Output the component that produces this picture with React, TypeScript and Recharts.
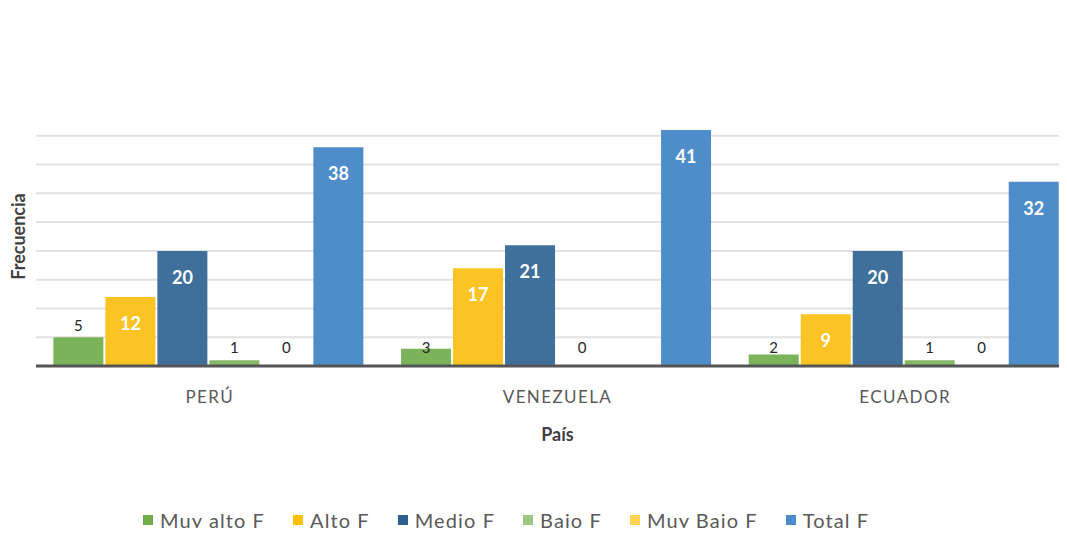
import { BarChart, Bar, XAxis, YAxis, CartesianGrid, LabelList } from 'recharts'

const countries = ['PERÚ', 'VENEZUELA', 'ECUADOR']
const muyAlto = [5, 3, 2]
const alto = [12, 17, 9]
const medio = [20, 21, 20]
const bajo = [1, 0, 1]
const muyBajo: (number | null)[] = [0, null, 0]
const total = [38, 41, 32]
const yTicks = [0, 5, 10, 15, 20, 25, 30, 35, 40]
const yMax = 45

const series = [
  { key: 'muyAlto', name: 'Muy alto F', color: '#7ab35a', legend: '#72ad4a', inside: false },
  { key: 'alto', name: 'Alto F', color: '#fbc323', legend: '#ffc000', inside: true },
  { key: 'medio', name: 'Medio F', color: '#3f6f9b', legend: '#2f5f8f', inside: true },
  { key: 'bajo', name: 'Bajo F', color: '#86b965', legend: '#9dc880', inside: false },
  { key: 'muyBajo', name: 'Muy Bajo F', color: '#ffcf40', legend: '#ffd24f', inside: false },
  { key: 'total', name: 'Total F', color: '#4e8dca', legend: '#4a8bca', inside: true },
]

const data = countries.map((c, i) => ({
  pais: c,
  muyAlto: muyAlto[i],
  alto: alto[i],
  medio: medio[i],
  bajo: bajo[i],
  muyBajo: muyBajo[i],
  total: total[i],
}))

const FONT = 'Lato, "Open Sans", sans-serif'

function OutsideLabel(props: any) {
  const { x, y, width, height, value } = props
  if (value == null) return null
  const base = y + height
  const ty = value >= 4 ? y - 12 : base - 19
  return (
    <text x={x + width / 2} y={ty} textAnchor="middle" dominantBaseline="central"
      fontFamily={FONT} fontSize={15} fill="#262626">
      {value}
    </text>
  )
}

function InsideLabel(props: any) {
  const { x, y, width, value } = props
  if (value == null) return null
  return (
    <text x={x + width / 2} y={y + 26} textAnchor="middle" dominantBaseline="central"
      fontFamily={FONT} fontSize={18} fontWeight="bold" fill="#ffffff">
      {value}
    </text>
  )
}

function CountryTick(props: any) {
  const { x, y, payload } = props
  return (
    <text x={x} y={y + 22} textAnchor="middle" dominantBaseline="central"
      fontFamily={FONT} fontSize={17} fill="#595959" letterSpacing={1.4}>
      {payload.value}
    </text>
  )
}

function NoTick() {
  return <g />
}

// grid only at the tick values (no line at the domain top)
function gridRows(args: any) {
  const top = args.offset?.top ?? 107
  const h = args.offset?.height ?? 259
  return yTicks.map((t) => top + h - (t / yMax) * h)
}

export default function App() {
  return (
    <div style={{ margin: -8, width: 1067, height: 536, overflow: 'hidden', position: 'relative', background: '#fff' }}>
      <BarChart width={1079} height={536} data={data}
        margin={{ top: 107, right: 0, left: 0, bottom: 90 }}
        barCategoryGap="5%" barGap={2}>
        <CartesianGrid vertical={false} stroke="#e2e2e2" strokeWidth={2}
          horizontalCoordinatesGenerator={gridRows} />
        <YAxis domain={[0, yMax]} ticks={yTicks} width={36} tick={<NoTick />} axisLine={false} tickLine={false}
          label={{ value: 'Frecuencia', angle: -90, position: 'insideLeft', offset: 19,
            style: { textAnchor: 'middle', fontFamily: FONT, fontSize: 18, fontWeight: 'bold', fill: '#404040' } }} />
        <XAxis dataKey="pais" height={80} tickLine={false} tick={<CountryTick />}
          axisLine={{ stroke: '#555555', strokeWidth: 3 }}
          label={{ value: 'País', position: 'insideBottom', offset: 5,
            style: { fontFamily: FONT, fontSize: 18, fontWeight: 'bold', fill: '#404040' } }} />
        {series.map((s) => (
          <Bar key={s.key} dataKey={s.key} name={s.name} fill={s.color} isAnimationActive={false}
            minPointSize={0.01}>
            <LabelList dataKey={s.key} content={s.inside ? <InsideLabel /> : <OutsideLabel />} />
          </Bar>
        ))}
      </BarChart>
      <div style={{ position: 'absolute', top: 509, left: 143, display: 'flex', gap: 28, lineHeight: '22px',
        fontFamily: FONT, fontSize: 20, letterSpacing: 1.1, color: '#595959', whiteSpace: 'nowrap' }}>
        {series.map((s) => (
          <div key={s.key} style={{ display: 'flex', alignItems: 'center' }}>
            <span style={{ width: 10, height: 10, background: s.legend, marginRight: 7, display: 'inline-block' }} />
            <span>{s.name}</span>
          </div>
        ))}
      </div>
    </div>
  )
}
